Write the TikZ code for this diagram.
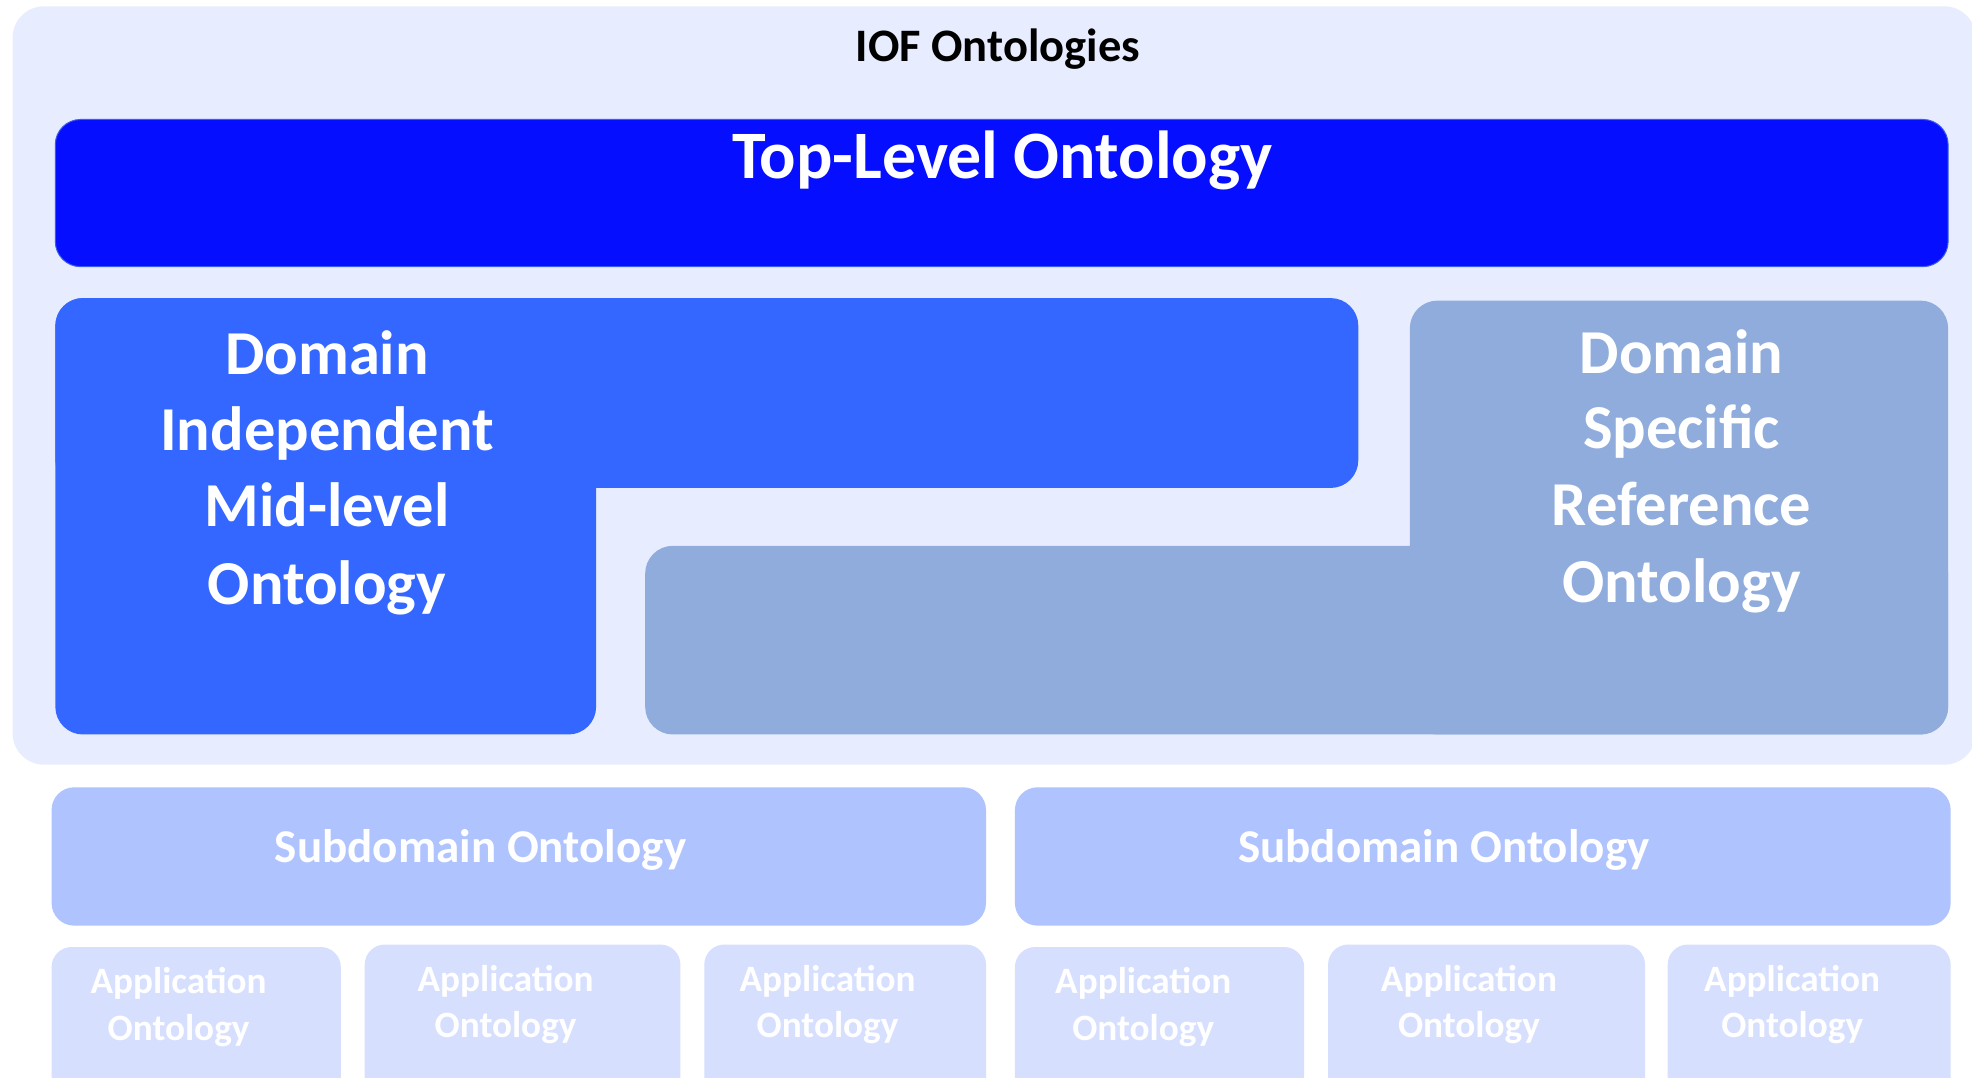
\documentclass[tikz,border=0pt]{standalone}
\usepackage{fontspec}
\setmainfont{Carlito}
\definecolor{outerbg}{RGB}{231,237,254}
\definecolor{topblue}{RGB}{5,14,255}
\definecolor{topedge}{RGB}{60,90,235}
\definecolor{midblue}{RGB}{52,103,255}
\definecolor{refblue}{RGB}{143,172,220}
\definecolor{subblue}{RGB}{175,195,254}
\definecolor{appblue}{RGB}{214,223,254}
\newcommand\bfsz[1]{\fontsize{#1}{#1}\selectfont\bfseries}
\tikzset{
  lbl/.style={text=white, inner sep=0pt, anchor=base},
  bigtxt/.style={lbl, font=\bfsz{49.7}},
  subtxt/.style={lbl, font=\bfsz{37.4}},
  apptxt/.style={lbl, font=\bfsz{29.6}},
  appbox/.style={fill=appblue, rounded corners=16},
  subbox/.style={fill=subblue, rounded corners=18},
}
\begin{document}
\begin{tikzpicture}[x=1pt,y=-1pt]
\useasboundingbox (0,0) rectangle (1568,857);
\clip (0,0) rectangle (1568,857);
% outer container
\fill[outerbg, rounded corners=25] (10,5) rectangle (1571,608);
\node[anchor=base, inner sep=0pt, font=\bfsz{37}] (title) at (793.5,49) {IOF Ontologies};
% top-level
\filldraw[fill=topblue, draw=topedge, line width=0.8, rounded corners=20] (44,95) rectangle (1549,212);
\node[lbl, font=\bfsz{54}] (top) at (797,142) {Top-Level Ontology};
% domain independent mid-level
\fill[midblue, rounded corners=22] (44,237) rectangle (1080,388);
\fill[midblue, rounded corners=22] (44,237) rectangle (474,584);
\node[bigtxt] (dimo1) at (260,298) {Domain};
\node[bigtxt] (dimo2) at (260,358.5) {Independent};
\node[bigtxt] (dimo3) at (260,419) {Mid-level};
\node[bigtxt] (dimo4) at (260,481) {Ontology};
% domain specific reference
\fill[refblue, rounded corners=22] (1121,239) rectangle (1549,584);
\fill[refblue, rounded corners=22] (513,434) rectangle (1549,584);
\node[bigtxt] (dsro1) at (1337,297) {Domain};
\node[bigtxt] (dsro2) at (1337,357) {Specific};
\node[bigtxt] (dsro3) at (1337,418) {Reference};
\node[bigtxt] (dsro4) at (1337,479) {Ontology};
% subdomain
\fill[subbox] (41,626) rectangle (784,736);
\fill[subbox] (807,626) rectangle (1551,736);
\node[subtxt] (sub1) at (382,686) {Subdomain Ontology};
\node[subtxt] (sub2) at (1148,686) {Subdomain Ontology};
% application
\foreach \l/\r/\t/\c/\i in {41/271/753/142/1, 290/541/751/402/2, 560/784/751/658/3,
                           807/1037/753/909/4, 1056/1308/751/1168/5, 1326/1551/751/1425/6}{
  \fill[appbox] (\l,\t) rectangle (\r,880);
  \node[apptxt] (appa\i) at (\c,\t+37) {Application};
  \node[apptxt] (appb\i) at (\c,\t+74) {Ontology};
}
\end{tikzpicture}
\end{document}
